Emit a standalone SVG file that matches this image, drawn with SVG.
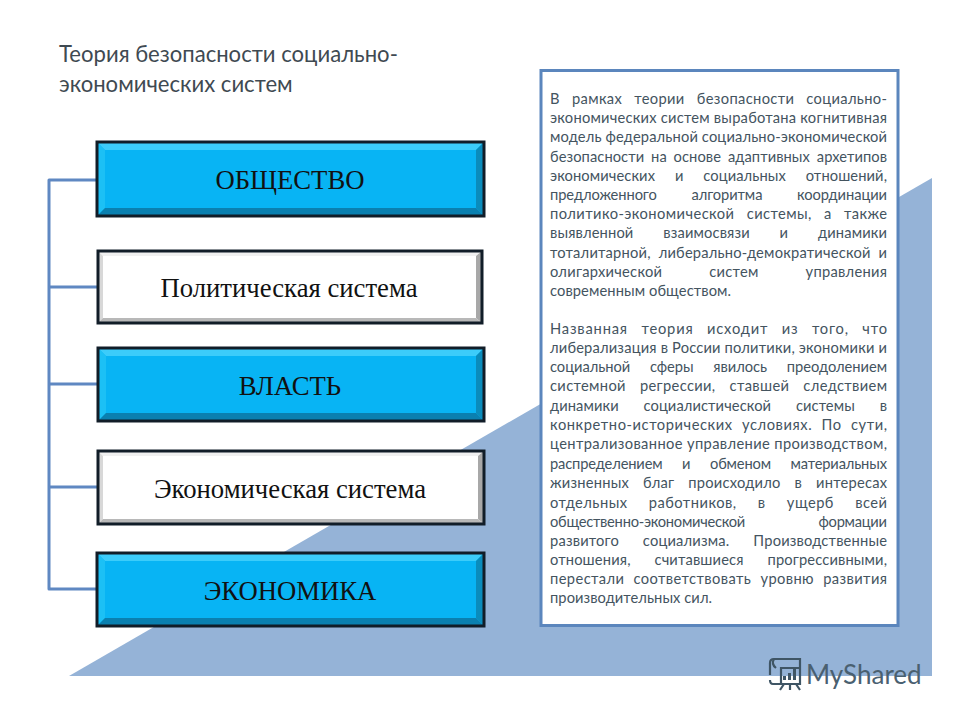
<svg xmlns="http://www.w3.org/2000/svg" width="960" height="720" viewBox="0 0 960 720">
<style>
.title{font-family:"Lato","Liberation Sans",sans-serif;font-size:22.100px;fill:#3f4a52}
.b{font-family:"Lato","Liberation Sans",sans-serif;font-size:14.700px;fill:#44545f}
.lbl{font-family:"Liberation Serif","Times New Roman",serif;font-size:26.700px;fill:#111;text-anchor:middle}
.wm{font-family:"Lato","Liberation Sans",sans-serif;font-size:26px;fill:#4a6070}
.frame{fill:none;stroke:#111d28;stroke-width:3}
.conn{fill:none;stroke:#5f88c2;stroke-width:3;stroke-linejoin:round}
.ic{fill:none;stroke:#3f5565;stroke-width:2.2}
</style>
<polygon points="69,676 932,178 932,676" fill="#95b3d7"/>
<g id="connectors"><path class="conn" d="M97,180H49V589H97M49,287H98M49,384H98M49,487H98"/></g>
<g id="node-obshchestvo">
<rect x="97" y="142" width="387" height="74" fill="#08b4f4"/>
<polygon points="97,142 484,142 476,150 105,150" fill="#3cccfa"/>
<polygon points="97,142 105,150 105,208 97,216" fill="#1cc0f5"/>
<polygon points="484,142 484,216 476,208 476,150" fill="#0a8cbc"/>
<polygon points="97,216 484,216 476,208 105,208" fill="#0a80b0"/>
<rect x="97" y="142" width="387" height="74" class="frame"/>
<text class="lbl" x="290" y="189">ОБЩЕСТВО</text>
</g>
<g id="node-politicheskaya">
<rect x="98" y="251" width="384" height="72" fill="#fff"/>
<polygon points="98,251 482,251 476,256 103,256" fill="#f0f0f0"/>
<polygon points="98,251 103,256 103,318 98,323" fill="#d8d8d8"/>
<polygon points="482,251 482,323 476,318 476,256" fill="#a8a8a8"/>
<polygon points="98,323 482,323 476,318 103,318" fill="#b8b8b8"/>
<rect x="98" y="251" width="384" height="72" class="frame"/>
<text class="lbl" x="289" y="297">Политическая система</text>
</g>
<g id="node-vlast">
<rect x="98" y="348" width="386" height="73" fill="#08b4f4"/>
<polygon points="98,348 484,348 476,356 106,356" fill="#3cccfa"/>
<polygon points="98,348 106,356 106,413 98,421" fill="#1cc0f5"/>
<polygon points="484,348 484,421 476,413 476,356" fill="#0a8cbc"/>
<polygon points="98,421 484,421 476,413 106,413" fill="#0a80b0"/>
<rect x="98" y="348" width="386" height="73" class="frame"/>
<text class="lbl" x="290" y="395">ВЛАСТЬ</text>
</g>
<g id="node-ekonomicheskaya">
<rect x="98" y="451" width="386" height="73" fill="#fff"/>
<polygon points="98,451 484,451 478,456 103,456" fill="#f0f0f0"/>
<polygon points="98,451 103,456 103,519 98,524" fill="#d8d8d8"/>
<polygon points="484,451 484,524 478,519 478,456" fill="#a8a8a8"/>
<polygon points="98,524 484,524 478,519 103,519" fill="#b8b8b8"/>
<rect x="98" y="451" width="386" height="73" class="frame"/>
<text class="lbl" x="290" y="498">Экономическая система</text>
</g>
<g id="node-ekonomika">
<rect x="97" y="553" width="387" height="73" fill="#08b4f4"/>
<polygon points="97,553 484,553 476,561 105,561" fill="#3cccfa"/>
<polygon points="97,553 105,561 105,618 97,626" fill="#1cc0f5"/>
<polygon points="484,553 484,626 476,618 476,561" fill="#0a8cbc"/>
<polygon points="97,626 484,626 476,618 105,618" fill="#0a80b0"/>
<rect x="97" y="553" width="387" height="73" class="frame"/>
<text class="lbl" x="290" y="600">ЭКОНОМИКА</text>
</g>
<g id="title">
<text class="title" x="59" y="62">Теория безопасности социально-</text>
<text class="title" x="59" y="92">экономических систем</text>
</g>
<g id="panel">
<rect x="541" y="70.500" width="357" height="555" fill="#fff" stroke="#5b86bd" stroke-width="3"/>
<text class="b" x="550" y="104" word-spacing="8" textLength="337" lengthAdjust="spacing">В рамках теории безопасности социально-</text>
<text class="b" x="550" y="123" textLength="337" lengthAdjust="spacing">экономических систем выработана когнитивная</text>
<text class="b" x="550" y="142" textLength="337" lengthAdjust="spacing">модель федеральной социально-экономической</text>
<text class="b" x="550" y="162" word-spacing="3" textLength="337" lengthAdjust="spacing">безопасности на основе адаптивных архетипов</text>
<text class="b" x="550" y="181" word-spacing="16" textLength="337" lengthAdjust="spacing">экономических и социальных отношений,</text>
<text class="b" x="550" y="200" word-spacing="31" textLength="337" lengthAdjust="spacing">предложенного алгоритма координации</text>
<text class="b" x="550" y="219" word-spacing="8" textLength="337" lengthAdjust="spacing">политико-экономической системы, а также</text>
<text class="b" x="550" y="238" word-spacing="26" textLength="337" lengthAdjust="spacing">выявленной взаимосвязи и динамики</text>
<text class="b" x="550" y="258" word-spacing="4" textLength="337" lengthAdjust="spacing">тоталитарной, либерально-демократической и</text>
<text class="b" x="550" y="277" word-spacing="43" textLength="337" lengthAdjust="spacing">олигархической систем управления</text>
<text class="b" x="550" y="296" textLength="181" lengthAdjust="spacing">современным обществом.</text>
<text class="b" x="550" y="334" word-spacing="9" textLength="337" lengthAdjust="spacing">Названная теория исходит из того, что</text>
<text class="b" x="550" y="353" textLength="337" lengthAdjust="spacing">либерализация в России политики, экономики и</text>
<text class="b" x="550" y="372" word-spacing="16" textLength="337" lengthAdjust="spacing">социальной сферы явилось преодолением</text>
<text class="b" x="550" y="391" word-spacing="10" textLength="337" lengthAdjust="spacing">системной регрессии, ставшей следствием</text>
<text class="b" x="550" y="411" word-spacing="21" textLength="337" lengthAdjust="spacing">динамики социалистической системы в</text>
<text class="b" x="550" y="430" word-spacing="5" textLength="337" lengthAdjust="spacing">конкретно-исторических условиях. По сути,</text>
<text class="b" x="550" y="449" textLength="337" lengthAdjust="spacing">централизованное управление производством,</text>
<text class="b" x="550" y="469" word-spacing="16" textLength="337" lengthAdjust="spacing">распределением и обменом материальных</text>
<text class="b" x="550" y="488" word-spacing="10" textLength="337" lengthAdjust="spacing">жизненных благ происходило в интересах</text>
<text class="b" x="550" y="508" word-spacing="17" textLength="337" lengthAdjust="spacing">отдельных работников, в ущерб всей</text>
<text class="b" x="550" y="527" word-spacing="70" textLength="337" lengthAdjust="spacing">общественно-экономической формации</text>
<text class="b" x="550" y="546" word-spacing="20" textLength="337" lengthAdjust="spacing">развитого социализма. Производственные</text>
<text class="b" x="550" y="565" word-spacing="20" textLength="337" lengthAdjust="spacing">отношения, считавшиеся прогрессивными,</text>
<text class="b" x="550" y="584" word-spacing="5" textLength="337" lengthAdjust="spacing">перестали соответствовать уровню развития</text>
<text class="b" x="550" y="603" textLength="162" lengthAdjust="spacing">производительных сил.</text>
</g>
<g id="watermark">
<path class="ic" d="M770,675V663Q770,659 774,659H800V684H773Q770,684 770,680"/>
<path class="ic" d="M774,659Q771,664 776,668M781,684V668H800"/>
<path class="ic" d="M784,684L780,690M790,684V690M796,684L800,690"/>
<rect x="783" y="676" width="3" height="4" fill="#3f5565"/><rect x="788" y="673" width="3" height="7" fill="#3f5565"/><rect x="793" y="669" width="3" height="11" fill="#3f5565"/>
<text class="wm" x="806" y="684">MyShared</text>
</g>
</svg>
